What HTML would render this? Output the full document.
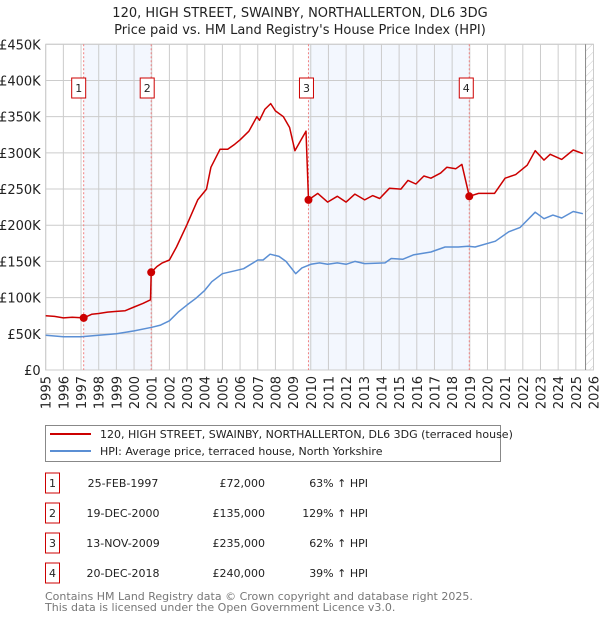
<!DOCTYPE html>
<html><head><meta charset="utf-8"><style>
body{margin:0;background:#fff;font-family:"Liberation Sans","DejaVu Sans",sans-serif;}
svg text{font-family:"DejaVu Sans","Liberation Sans",sans-serif;}
</style></head><body>
<svg id="c" width="600" height="620" xmlns="http://www.w3.org/2000/svg"></svg>
<script>
const redYears=[1995,1995.5,1996,1996.5,1997.15,1997.6,1998,1998.5,1999,1999.5,2000,2000.5,2000.93,2000.97,2001.3,2001.6,2002,2002.4,2002.98,2003.6,2004.1,2004.35,2004.87,2005.3,2005.7,2006,2006.5,2006.95,2007.1,2007.4,2007.73,2008,2008.45,2008.8,2009.1,2009.5,2009.73,2009.87,2010.4,2010.95,2011.5,2012,2012.5,2013.05,2013.5,2013.9,2014.45,2015.1,2015.5,2015.95,2016.4,2016.8,2017.35,2017.7,2018.2,2018.55,2018.97,2019.5,2020.4,2021,2021.6,2022.25,2022.7,2023.2,2023.55,2024.2,2024.85,2025.4];
const redVals=[75,74,72,73,72,77,78,80,81,82,87,92,97,135,143,148,152,170,200,235,250,280,305,305,312,318,330,350,345,360,368,358,350,335,303,320,330,235,244,232,240,232,243,235,241,237,251,250,262,257,268,265,272,280,278,284,240,244,244,265,270,283,303,290,298,291,304,299];
const hpiYears=[1995,1996,1997,1998,1999,2000,2001,2001.5,2002,2002.5,2003,2003.5,2004,2004.4,2005,2005.7,2006.2,2007,2007.3,2007.7,2008.2,2008.6,2009.15,2009.5,2010,2010.5,2010.95,2011.5,2012,2012.5,2013.05,2014.2,2014.55,2015.2,2015.8,2016.8,2017.6,2018.35,2018.9,2019.3,2020.45,2021.2,2021.85,2022.7,2023.2,2023.7,2024.2,2024.85,2025.4];
const hpiVals=[48,46,46,48,50,54,59,62,68,80,90,99,110,122,133,137,140,152,152,160,157,150,133,141,146,148,146,148,146,150,147,148,154,153,159,163,170,170,171,170,178,191,197,218,209,214,210,219,216];
const saleYears=[1997.15,2000.97,2009.87,2018.97];
const saleVals=[72,135,235,240];
const saleLabels=["1","2","3","4"];
const yTicks=[0,50,100,150,200,250,300,350,400,450];
const yTickLabels=["£0","£50K","£100K","£150K","£200K","£250K","£300K","£350K","£400K","£450K"];
const xTicks=[1995,1996,1997,1998,1999,2000,2001,2002,2003,2004,2005,2006,2007,2008,2009,2010,2011,2012,2013,2014,2015,2016,2017,2018,2019,2020,2021,2022,2023,2024,2025,2026];
const rows=[["1","25-FEB-1997","£72,000","63% ↑ HPI"],["2","19-DEC-2000","£135,000","129% ↑ HPI"],["3","13-NOV-2009","£235,000","62% ↑ HPI"],["4","20-DEC-2018","£240,000","39% ↑ HPI"]];

const L=45.7,R=593.5,T=44.3,B=370;
const X=y=>L+(y-1995)*(R-L)/31;
const Y=v=>B-v*(B-T)/450;
const NS="http://www.w3.org/2000/svg";
const svg=document.getElementById('c');
function mk(tag,attrs,parent){const e=document.createElementNS(NS,tag);for(const k in attrs)e.setAttribute(k,attrs[k]);(parent||svg).appendChild(e);return e;}
function txt(s,attrs,parent){const e=mk('text',attrs,parent);e.textContent=s;return e;}

// title
let t=txt("120, HIGH STREET, SWAINBY, NORTHALLERTON, DL6 3DG",{x:300,y:17,"text-anchor":"middle","font-size":13,fill:"#222"});


t=txt("Price paid vs. HM Land Registry's House Price Index (HPI)",{x:300,y:34,"text-anchor":"middle","font-size":13,fill:"#222"});



// shading
const defs=mk('defs',{});
const pat=mk('pattern',{id:'h',width:6,height:6,patternUnits:'userSpaceOnUse',patternTransform:'rotate(45)'},defs);
mk('line',{x1:0,y1:0,x2:0,y2:6,stroke:'#ccc','stroke-width':1},pat);
for(const [a,b] of [[0,1],[2,3]]){
  const r=mk('rect',{x:X(saleYears[a]),y:T,width:X(saleYears[b])-X(saleYears[a]),height:B-T,fill:'#eef3fd',opacity:0.7});
  
  
}
const hr=mk('rect',{x:X(2025.55),y:T,width:R-X(2025.55),height:B-T,fill:'url(#h)'});



// grid
yTicks.forEach((v,i)=>{
  mk('line',{x1:L,x2:R,y1:Y(v),y2:Y(v),stroke:'#ccc','stroke-width':1});
  const l=txt(yTickLabels[i],{x:L-5,y:Y(v)+5,"text-anchor":"end","font-size":13,fill:"#222"});
  
  
});
xTicks.forEach(y=>{
  mk('line',{x1:X(y),x2:X(y),y1:T,y2:B,stroke:'#ccc','stroke-width':1});
  const l=txt(String(y),{x:0,y:0,"text-anchor":"end","font-size":13,fill:"#222",transform:`translate(${X(y)+5},${B+6}) rotate(-90)`});
  
  
});
mk('rect',{x:L,y:T,width:R-L,height:B-T,fill:'none',stroke:'#ccc'});
mk('line',{x1:X(2025.55),x2:X(2025.55),y1:T,y2:B,stroke:'#888'});

// sale vlines + labels
saleYears.forEach((y,i)=>{
  mk('line',{x1:X(y),x2:X(y),y1:T,y2:B,stroke:'#f08080','stroke-dasharray':'2,2','stroke-width':1});
  const g=mk('g',{});
  
  
  const bx=X(y)-(i<2?14:7)*(i===3?1:1);
  const cx=i===0?X(y)-5:i===1?X(y)-4:i===2?X(y)-2:X(y)-3;
  mk('rect',{x:cx-7,y:78,width:14,height:20,fill:'#fff',stroke:'#c00'},g);
  txt(saleLabels[i],{x:cx,y:92,"text-anchor":"middle","font-size":11,fill:"#222"},g);
});

function path(xs,vs,color,name){
  const d=xs.map((y,i)=>(i?'L':'M')+X(y).toFixed(1)+','+Y(vs[i]).toFixed(1)).join('');
  const p=mk('path',{d:d,fill:'none',stroke:color,'stroke-width':1.5,'stroke-linejoin':'round'});
  
  
}
path(hpiYears,hpiVals,'#5b8fd4','hpi-line');
path(redYears,redVals,'#cc0000','price-line');
saleYears.forEach((y,i)=>{
  const c=mk('circle',{cx:X(y),cy:Y(saleVals[i]),r:4,fill:'#cc0000'});
  
  
});

// legend
const lg=mk('g',{});


mk('rect',{x:45.5,y:425.5,width:455,height:36,fill:'#fff',stroke:'#888'},lg);
mk('line',{x1:50,x2:91,y1:434,y2:434,stroke:'#cc0000','stroke-width':2},lg);
txt("120, HIGH STREET, SWAINBY, NORTHALLERTON, DL6 3DG (terraced house)",{x:100,y:438,"font-size":11,fill:"#222"},lg);
mk('line',{x1:50,x2:91,y1:451,y2:451,stroke:'#5b8fd4','stroke-width':2},lg);
txt("HPI: Average price, terraced house, North Yorkshire",{x:100,y:455,"font-size":11,fill:"#222"},lg);

// table
rows.forEach((r,i)=>{
  const cy=483+i*30;
  const g=mk('g',{});
  
  
  mk('rect',{x:45.5,y:cy-10,width:14,height:20,fill:'#fff',stroke:'#c00'},g);
  txt(r[0],{x:52.5,y:cy+4,"text-anchor":"middle","font-size":11,fill:"#222"},g);
  txt(r[1],{x:123,y:cy+4,"text-anchor":"middle","font-size":11,fill:"#222"},g);
  txt(r[2],{x:265,y:cy+4,"text-anchor":"end","font-size":11,fill:"#222"},g);
  txt(r[3],{x:368,y:cy+4,"text-anchor":"end","font-size":11,fill:"#222"},g);
});
t=txt("Contains HM Land Registry data © Crown copyright and database right 2025.",{x:45,y:600,"font-size":11,fill:"#777"});


t=txt("This data is licensed under the Open Government Licence v3.0.",{x:45,y:611,"font-size":11,fill:"#777"});


</script>
</body></html>
